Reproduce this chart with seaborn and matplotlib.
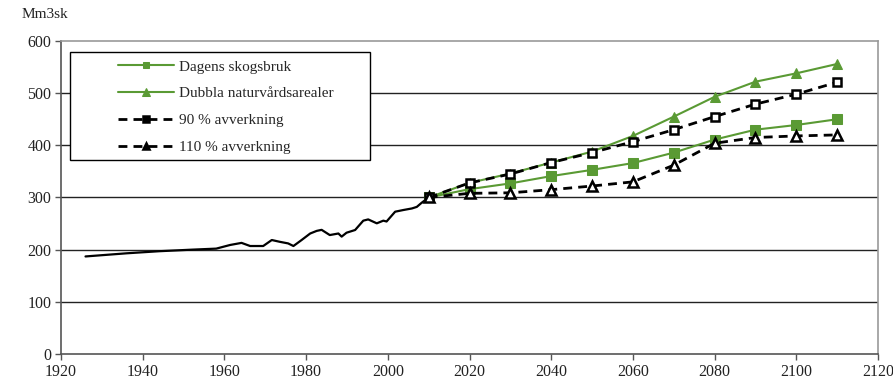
import numpy as np
import pandas as pd
import matplotlib
matplotlib.use("Agg")
import matplotlib.pyplot as plt
from matplotlib.patches import Rectangle
import seaborn as sns

# Historical series
hist_years = [1926, 1936, 1944, 1952, 1958, 1961.4, 1964.2, 1966.3, 1969.5, 1971.6, 1973.6,
              1975.6, 1976.9, 1978.9, 1981, 1982.6, 1983.8, 1985.8, 1987.9, 1988.7, 1989.9,
              1992, 1994, 1995.2, 1997.3, 1998.9, 1999.7, 2001.8, 2003.8, 2005.9, 2007.1,
              2008.3, 2010]
hist_values = [187, 193, 197, 200, 202, 209, 213, 207, 207, 218.5, 215,
               212, 207, 218.5, 231, 236, 238, 228, 231, 225, 232.5,
               237.7, 255.6, 258, 250.5, 255.6, 254, 272.8, 276, 279, 282,
               290, 300]

# Scenario projections
proj_years = [2010, 2020, 2030, 2040, 2050, 2060, 2070, 2080, 2090, 2100, 2110]
dagens = [300, 316, 327, 341, 353, 366, 386, 411, 430, 439, 450]
dubbla = [300, 328, 346, 367, 388, 418, 455, 493, 522, 538, 556]
avv90 = [300, 328, 345, 367, 386, 407, 430, 455, 479, 498, 521]
avv110 = [300, 308, 309, 315, 322, 330, 362, 404, 415, 418, 420]

labels = ["Dagens skogsbruk", "Dubbla naturvårdsarealer", "90 % avverkning", "110 % avverkning"]
x_ticks = list(range(1920, 2121, 20))
y_ticks = list(range(0, 601, 100))

sns.set_theme(style="white")
plt.rcParams['font.family'] = ['Liberation Serif', 'DejaVu Serif']

fig = plt.figure(figsize=(8.93, 3.83), dpi=100)
ax = fig.add_axes([61/893, 1-354/383, (878-61)/893, (354-41)/383])

green = '#5a9a34'

hist_df = pd.DataFrame({"year": hist_years, "value": hist_values})
sns.lineplot(data=hist_df, x="year", y="value", ax=ax, color='black', lw=1.6, legend=False)

dash = (0, (3.2, 2.2))
series = [
    (dagens, dict(color=green, lw=1.5, marker='s', markersize=6.5, markerfacecolor=green,
                  markeredgecolor=green)),
    (dubbla, dict(color=green, lw=1.5, marker='^', markersize=7.5, markerfacecolor=green,
                  markeredgecolor=green)),
    (avv90, dict(color='black', lw=2, linestyle=dash, marker='s', markersize=6,
                 markerfacecolor='white', markeredgecolor='black', markeredgewidth=1.8)),
    (avv110, dict(color='black', lw=2, linestyle=dash, marker='^', markersize=7,
                  markerfacecolor='white', markeredgecolor='black', markeredgewidth=1.8)),
]
for (vals, kw), lab in zip(series, labels):
    df = pd.DataFrame({"year": proj_years, "value": vals})
    sns.lineplot(data=df, x="year", y="value", ax=ax, label=lab, **kw)

ax.set_xlim(1920, 2120)
ax.set_ylim(0, 600)
ax.set_xticks(x_ticks)
ax.set_yticks(y_ticks)
ax.set_xlabel("")
ax.set_ylabel("")
for y in y_ticks[1:-1]:
    ax.axhline(y, color='#222222', lw=1.0, zorder=0)

for s in ['top', 'right']:
    ax.spines[s].set_color('#999999')
    ax.spines[s].set_linewidth(1.2)
for s in ['left', 'bottom']:
    ax.spines[s].set_color('#555555')
    ax.spines[s].set_linewidth(1.2)

ax.tick_params(axis='both', which='both', direction='out', length=4, width=1,
               color='#555555', labelsize=11.5, labelcolor='#222222',
               left=True, bottom=True, pad=3)

# Legend with custom frame
rect = Rectangle(((70-61)/817, 1-(160-41)/313), 300/817, 108/313, transform=ax.transAxes,
                 fill=True, facecolor='white', edgecolor='black', lw=1, zorder=3)
ax.add_patch(rect)
leg = ax.legend(loc='upper left', bbox_to_anchor=((114-61)/817, 1-(56-41)/313),
                frameon=False, fontsize=11, handlelength=3.7, handletextpad=0.3,
                labelspacing=0.86, borderaxespad=0, borderpad=0.25, markerscale=0.7)
leg.set_zorder(4)
for h in leg.legend_handles:
    if h.get_color() == 'black':
        h.set_markerfacecolor('black')

fig.text(22/893, 1-15/383, "Mm3sk", fontsize=11, ha='left', va='center', color='#222222')

fig.savefig("out.png", dpi=100)
